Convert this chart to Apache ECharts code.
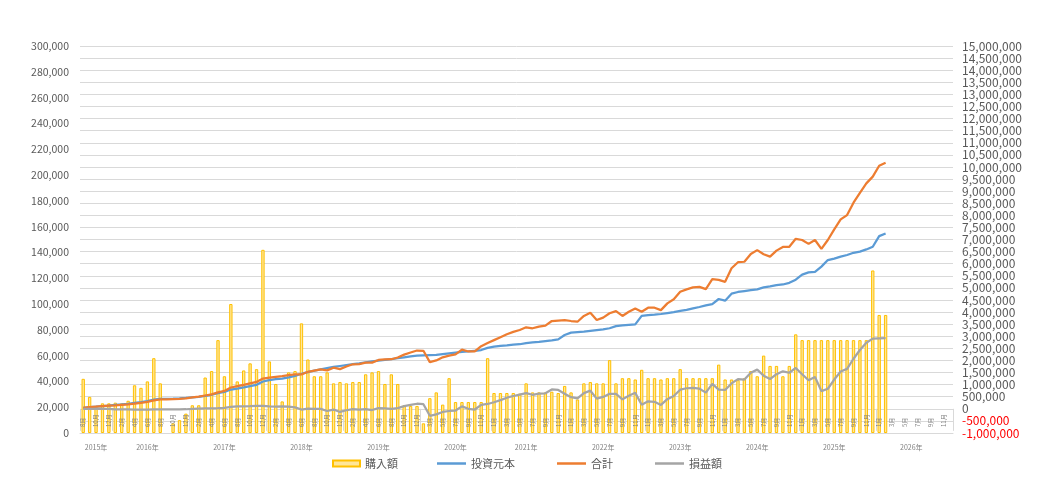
<!DOCTYPE html>
<html><head><meta charset="utf-8">
<script src="https://cdn.jsdelivr.net/npm/echarts@6/dist/echarts.min.js"></script>
<style>html,body{margin:0;padding:0;background:#fff}#c{width:1041px;height:481px}</style>
</head><body><div id="c"></div>
<script>
const categories = [
 '2015/8','2015/9','2015/10','2015/11','2015/12',
 '2016/1','2016/2','2016/3','2016/4','2016/5','2016/6','2016/7','2016/8','2016/9','2016/10','2016/11','2016/12',
 '2017/1','2017/2','2017/3','2017/4','2017/5','2017/6','2017/7','2017/8','2017/9','2017/10','2017/11','2017/12',
 '2018/1','2018/2','2018/3','2018/4','2018/5','2018/6','2018/7','2018/8','2018/9','2018/10','2018/11','2018/12',
 '2019/1','2019/2','2019/3','2019/4','2019/5','2019/6','2019/7','2019/8','2019/9','2019/10','2019/11','2019/12',
 '2020/1','2020/3','2020/4','2020/5','2020/6','2020/7','2020/8','2020/9','2020/10','2020/11','2020/12',
 '2021/1','2021/2','2021/3','2021/4','2021/5','2021/6','2021/7','2021/8','2021/9','2021/10','2021/11','2021/12',
 '2022/1','2022/2','2022/3','2022/4','2022/5','2022/6','2022/7','2022/8','2022/9','2022/10','2022/11','2022/12',
 '2023/1','2023/2','2023/3','2023/4','2023/5','2023/6','2023/7','2023/8','2023/9','2023/10','2023/11','2023/12',
 '2024/1','2024/2','2024/3','2024/4','2024/5','2024/6','2024/7','2024/8','2024/9','2024/10','2024/11','2024/12',
 '2025/1','2025/2','2025/3','2025/4','2025/5','2025/6','2025/7','2025/8','2025/9','2025/10','2025/11','2025/12',
 '2026/1','2026/2','2026/3','2026/4','2026/5','2026/6','2026/7','2026/8','2026/9','2026/10','2026/11','2026/12'
];

// 購入額 (left axis)
const purchase = [
 42000,28000,20000,23000,23000,
 23500,23000,25000,37000,35000,40000,58000,38500,null,7500,10000,15000,
 21500,21500,43000,48000,72000,44000,100000,40000,48500,54000,49500,142000,
 55500,38000,24500,47000,48000,85000,57000,44000,44000,47000,38500,39500,
 38500,39500,39500,45500,47000,48000,38000,45500,38000,21500,21000,21000,
 7500,27000,31500,22000,42500,24000,24000,24000,24000,24000,58000,
 31000,31000,31000,31000,30500,38500,31500,31500,31500,32000,31000,36500,
 31500,26000,38500,39500,38500,38500,56500,38500,42500,42500,41500,49000,
 42500,42500,41500,42500,42500,49500,42500,42500,42500,42500,42500,53000,
 41500,41500,41000,42500,48000,44000,60000,52000,52000,44000,52000,76500,
 72000,72000,72000,72000,72000,72000,72000,72000,72000,72000,72000,126000,
 91500,91500
];

// 投資元本 (right axis)
const principal = [
 42000,70000,90000,113000,136000,
 160000,183000,207000,244000,279000,319000,377000,415000,415000,423000,433000,448000,
 470000,490000,533000,580000,652000,697000,797000,837000,885000,940000,990000,1130000,
 1185000,1225000,1250000,1297000,1360000,1450000,1520000,1580000,1630000,1680000,1730000,1770000,
 1810000,1850000,1880000,1920000,1960000,1990000,2020000,2050000,2090000,2130000,2170000,2200000,
 2210000,2220000,2230000,2260000,2290000,2320000,2350000,2370000,2400000,2430000,2520000,
 2570000,2600000,2620000,2650000,2670000,2720000,2750000,2770000,2800000,2830000,2870000,3050000,
 3150000,3170000,3190000,3220000,3250000,3280000,3330000,3420000,3450000,3470000,3490000,3840000,
 3870000,3890000,3920000,3960000,4000000,4050000,4090000,4150000,4210000,4280000,4330000,4540000,
 4470000,4760000,4830000,4870000,4910000,4940000,5020000,5060000,5110000,5140000,5210000,5340000,
 5550000,5640000,5660000,5880000,6150000,6210000,6290000,6360000,6450000,6500000,6590000,6700000,
 7140000,7250000
];

// 合計 (right axis)
const total = [
 40000,70000,90000,110000,130000,
 140000,160000,180000,210000,250000,290000,350000,390000,390000,400000,410000,430000,
 470000,500000,550000,600000,680000,740000,880000,940000,990000,1050000,1110000,1250000,
 1290000,1320000,1350000,1390000,1420000,1420000,1530000,1580000,1630000,1590000,1700000,1640000,
 1750000,1840000,1850000,1910000,1910000,2020000,2040000,2050000,2120000,2240000,2330000,2410000,
 2400000,1930000,2000000,2130000,2200000,2250000,2450000,2370000,2370000,2590000,2720000,
 2840000,2960000,3080000,3180000,3260000,3370000,3330000,3400000,3440000,3630000,3650000,3670000,
 3630000,3600000,3840000,3970000,3670000,3770000,3950000,4040000,3840000,4010000,4150000,4010000,
 4180000,4180000,4080000,4360000,4530000,4840000,4940000,5020000,5040000,4950000,5360000,5330000,
 5250000,5810000,6060000,6080000,6400000,6560000,6390000,6290000,6540000,6690000,6700000,7030000,
 6980000,6820000,6980000,6610000,6980000,7420000,7830000,8010000,8520000,8930000,9320000,9600000,
 10050000,10170000
];

// 損益額 (right axis)
const profit = [
 0,0,0,-3000,-6000,
 -20000,-23000,-27000,-34000,-29000,-29000,-27000,-25000,-25000,-23000,-23000,-18000,
 0,10000,17000,20000,28000,43000,83000,103000,105000,110000,120000,120000,
 105000,95000,100000,93000,60000,-30000,10000,0,0,-90000,-30000,-130000,
 -60000,-10000,-30000,-10000,-50000,30000,20000,0,30000,110000,160000,210000,
 190000,-290000,-230000,-130000,-90000,-70000,100000,0,-30000,160000,200000,
 270000,360000,460000,530000,590000,650000,580000,630000,640000,800000,780000,620000,
 480000,430000,650000,750000,420000,490000,620000,620000,390000,540000,660000,170000,
 310000,290000,160000,400000,530000,790000,850000,870000,830000,670000,1030000,790000,
 780000,1050000,1230000,1210000,1490000,1620000,1370000,1230000,1430000,1550000,1490000,1690000,
 1430000,1180000,1320000,730000,830000,1210000,1540000,1650000,2070000,2430000,2730000,2900000,
 2910000,2920000
];

const seriesNames = ['購入額','投資元本','合計','損益額'];

// helpers for the two-level category axis (layout only)
const yearOf = c => c.split('/')[0];
const yearStart = new Set();
const yearMid = new Set();
(function(){
  let s = 0;
  for (let i = 1; i <= categories.length; i++) {
    if (i === categories.length || yearOf(categories[i]) !== yearOf(categories[s])) {
      yearStart.add(s);
      yearMid.add(Math.floor((s + i - 1) / 2));
      s = i;
    }
  }
})();
const fmt = v => Math.round(v).toLocaleString('en-US');
const FONT = '"Noto Sans CJK JP", "Noto Sans", sans-serif';
const legendText = {fontSize: 11, color: '#595959', fontFamily: FONT};

const chart = echarts.init(document.getElementById('c'), null, {renderer: 'canvas'});
chart.setOption({
  animation: false,
  backgroundColor: '#ffffff',
  textStyle: {fontFamily: FONT},
  grid: {left: 80, right: 88, top: 46, bottom: 48, containLabel: false},
  legend: [
    {
      data: [seriesNames[0]],
      left: 327, top: 453,
      icon: 'rect', itemWidth: 27, itemHeight: 6, itemGap: 38,
      textStyle: legendText
    },
    {
      data: seriesNames.slice(1),
      left: 432, top: 453,
      icon: 'rect', itemWidth: 29, itemHeight: 2.5, itemGap: 42,
      textStyle: legendText
    }
  ],
  xAxis: [
    {
      type: 'category', data: categories, position: 'bottom', z: 3,
      axisLine: {show: true, lineStyle: {color: '#d9d9d9', width: 1}},
      axisTick: {show: false},
      splitLine: {show: false},
      axisLabel: {
        inside: true, rotate: 90, fontSize: 6, color: '#7f7f7f', margin: 6,
        interval: (i) => i % 2 === 0,
        formatter: v => v.split('/')[1] + '月'
      }
    },
    {
      type: 'category', data: categories, position: 'bottom',
      axisLine: {show: false},
      axisTick: {show: true, length: 22, lineStyle: {color: '#d9d9d9'}, interval: (i) => yearStart.has(i)},
      splitLine: {show: false},
      axisLabel: {
        show: true, fontSize: 7, color: '#7f7f7f', margin: 11,
        interval: (i) => yearMid.has(i),
        formatter: v => yearOf(v) + '年'
      }
    }
  ],
  yAxis: [
    {
      type: 'value', min: 0, max: 300000, interval: 20000, position: 'left',
      axisLine: {show: false}, axisTick: {show: false}, splitLine: {show: false},
      axisLabel: {fontSize: 10.5, color: '#595959', margin: 11, formatter: fmt}
    },
    {
      type: 'value', min: -1000000, max: 15000000, interval: 500000, position: 'right',
      axisLine: {show: false}, axisTick: {show: false},
      splitLine: {show: true, lineStyle: {color: '#d9d9d9', width: 1}},
      axisLabel: {
        fontSize: 12, margin: 9, formatter: fmt,
        color: (v) => (Number(v) < 0 ? '#ff0000' : '#595959')
      }
    }
  ],
  series: [
    {
      name: seriesNames[0], type: 'bar', xAxisIndex: 0, yAxisIndex: 0, data: purchase,
      barWidth: '52%',
      itemStyle: {color: '#FFE699', borderColor: '#FFC000', borderWidth: 1}
    },
    {
      name: seriesNames[1], type: 'line', xAxisIndex: 0, yAxisIndex: 1, data: principal,
      symbol: 'none', showSymbol: false, z: 4,
      lineStyle: {color: '#5B9BD5', width: 2.25}, itemStyle: {color: '#5B9BD5'}
    },
    {
      name: seriesNames[2], type: 'line', xAxisIndex: 0, yAxisIndex: 1, data: total,
      symbol: 'none', showSymbol: false, z: 5,
      lineStyle: {color: '#ED7D31', width: 2.25}, itemStyle: {color: '#ED7D31'}
    },
    {
      name: seriesNames[3], type: 'line', xAxisIndex: 0, yAxisIndex: 1, data: profit,
      symbol: 'none', showSymbol: false, z: 6,
      lineStyle: {color: '#A5A5A5', width: 2.25}, itemStyle: {color: '#A5A5A5'}
    }
  ]
});
</script>
</body></html>
